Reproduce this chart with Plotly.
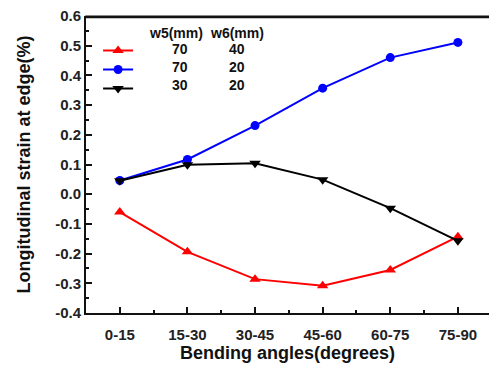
import plotly.graph_objects as go

categories = ["0-15", "15-30", "30-45", "45-60", "60-75", "75-90"]
red_w5_70_w6_40 = [-0.06, -0.194, -0.286, -0.308, -0.255, -0.143]
blue_w5_70_w6_20 = [0.046, 0.117, 0.231, 0.357, 0.46, 0.511]
black_w5_30_w6_20 = [0.045, 0.099, 0.104, 0.049, -0.047, -0.157]
w5_mm = [70, 70, 30]
w6_mm = [40, 20, 20]
y_ticks = [0.6, 0.5, 0.4, 0.3, 0.2, 0.1, 0.0, -0.1, -0.2, -0.3, -0.4]

FONT = "Arial, Liberation Sans, sans-serif"
x = list(range(len(categories)))

# plot-area geometry (pixels) for paper-coordinate conversions
L, T, W, H = 86, 16, 403, 297
def px(xp):
    return (xp - L) / W
def py(yp):
    return 1 - (yp - T) / H

series = [
    (red_w5_70_w6_40, "#ff0000", "triangle-up", 10),
    (blue_w5_70_w6_20, "#0000ff", "circle", 9),
    (black_w5_30_w6_20, "#000000", "triangle-down", 10),
]

fig = go.Figure()
for i, (vals, col, sym, sz) in enumerate(series):
    fig.add_trace(go.Scatter(
        x=x, y=vals, mode="lines+markers", name=" ",
        line=dict(color=col, width=2),
        marker=dict(symbol=sym, size=sz, color=col),
    ))

ann = [
    dict(text="<b>w5(mm)</b>", x=px(176), y=py(33)),
    dict(text="<b>w6(mm)</b>", x=px(237), y=py(33)),
]
row_y = [49, 67, 84.5]
for r in range(3):
    ann.append(dict(text=f"<b>{w5_mm[r]}</b>", x=px(180), y=py(row_y[r])))
    ann.append(dict(text=f"<b>{w6_mm[r]}</b>", x=px(237), y=py(row_y[r])))
for a in ann:
    a.update(xref="paper", yref="paper", xanchor="center", yanchor="middle", showarrow=False,
             font=dict(size=14, family=FONT, color="#111"))

fig.update_layout(
    width=489, height=367,
    margin=dict(l=L, r=0, t=T, b=54),
    paper_bgcolor="white", plot_bgcolor="white",
    font=dict(family=FONT, color="#111"),
    showlegend=True,
    legend=dict(x=0.03, y=py(36), xanchor="left", yanchor="top",
                bgcolor="rgba(0,0,0,0)", font=dict(size=10, family=FONT, color="#111"),
                itemwidth=30, tracegroupgap=0),
    xaxis=dict(
        range=[-0.5, 5.46], tickmode="array", tickvals=x,
        ticktext=[f"<b>{c}</b>" for c in categories],
        showline=True, linecolor="#111", linewidth=2, mirror=False,
        ticks="inside", ticklen=6, tickwidth=1.5, tickcolor="#111",
        minor=dict(ticks="inside", ticklen=3, tickwidth=1.5, tickcolor="#111",
                   tickmode="array", tickvals=[i + 0.5 for i in x]),
        showgrid=False, zeroline=False,
        tickfont=dict(size=15, family=FONT, color="#222"),
        ticklabelstandoff=7,
        title=dict(text="<b>Bending angles(degrees)</b>", font=dict(size=18, family=FONT, color="#111"),
                   standoff=3),
    ),
    yaxis=dict(
        range=[-0.4, 0.6], tickmode="array", tickvals=y_ticks,
        ticktext=[f"<b>{v:.1f}</b>" for v in y_ticks],
        showline=True, linecolor="#111", linewidth=2, mirror=False,
        ticks="inside", ticklen=6, tickwidth=1.5, tickcolor="#111",
        minor=dict(ticks="inside", ticklen=3, tickwidth=1.5, tickcolor="#111",
                   tickmode="array", tickvals=[round(v + 0.05, 2) for v in y_ticks[1:]]),
        showgrid=False, zeroline=False,
        tickfont=dict(size=15, family=FONT, color="#222"),
        title=dict(text="<b>Longitudinal strain at edge(%)</b>", font=dict(size=18, family=FONT, color="#111"),
                   standoff=20),
    ),
    shapes=[dict(type="rect", xref="paper", yref="paper", x0=-0.002, x1=1.0,
                 y0=1 - 2.2 / H, y1=1 + 0.6 / H,
                 line=dict(width=0), fillcolor="#111", layer="above")],
    annotations=ann,
)

fig.write_html("out.html", config={"displayModeBar": False},
               post_script="document.body.style.margin='0';document.body.style.overflow='hidden';")
